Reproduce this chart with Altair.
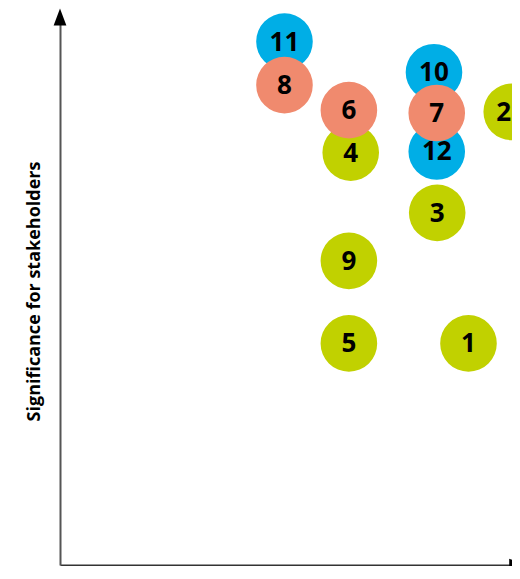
import altair as alt
import pandas as pd

labels = ["1", "2", "3", "4", "5", "6", "7", "8", "9", "10", "11", "12"]
impact = [8.88, 9.82, 8.20, 6.32, 6.28, 6.28, 8.19, 4.88, 6.28, 8.13, 4.88, 8.19]
significance = [4.15, 8.30, 6.49, 7.57, 4.15, 8.33, 8.28, 8.78, 5.63, 9.01, 9.56, 7.59]
category = ["A", "A", "A", "A", "A", "C", "C", "C", "A", "B", "B", "B"]
layer_rank = [1, 1, 1, 1, 1, 2, 2, 2, 1, 1, 1, 1]

cat_domain = ["A", "B", "C"]
cat_colors = ["#c1d100", "#00aee6", "#f08a6e"]

df = pd.DataFrame({
    "label": labels,
    "impact": impact,
    "significance": significance,
    "category": category,
    "rank": layer_rank,
})

arrow_y = pd.DataFrame({"impact": [0.0], "significance": [10.0]})
arrow_x = pd.DataFrame({"impact": [9.95], "significance": [0.179]})

xscale = alt.Scale(domain=[0, 9.826], nice=False, zero=False)
yscale = alt.Scale(domain=[0.179, 10], nice=False, zero=False)

x_axis = alt.Axis(title=None, labels=False, ticks=False, grid=False,
                  domainColor="#333333", domainWidth=2)
y_axis = alt.Axis(title="Significance for stakeholders", labels=False, ticks=False,
                  grid=False, domainColor="#555555", domainWidth=2,
                  titleFont="Open Sans", titleFontSize=18, titleFontWeight="bold",
                  titleColor="#000000", titlePadding=17)

base = alt.Chart(df).encode(
    x=alt.X("impact:Q", scale=xscale, axis=x_axis),
    y=alt.Y("significance:Q", scale=yscale, axis=y_axis),
)

circles = base.mark_circle(size=3204, opacity=1).encode(
    color=alt.Color("category:N", scale=alt.Scale(domain=cat_domain, range=cat_colors), legend=None),
    order=alt.Order("rank:Q", sort="ascending"),
)

text_style = dict(font="Open Sans", fontSize=26, fontWeight="bold",
                  color="#000000", baseline="middle", dy=1)

texts = base.mark_text(**text_style).encode(
    text="label:N"
).transform_filter(alt.datum.label != "2")

# the label at the right edge is nudged inward so it stays readable
text_edge = base.mark_text(dx=-8, **text_style).encode(
    text="label:N"
).transform_filter(alt.datum.label == "2")

up_arrow = alt.Chart(arrow_y).mark_point(
    shape="M0,-1L-0.75,1L0.75,1Z", size=289, filled=True, color="#000000", opacity=1
).encode(
    x=alt.X("impact:Q", scale=xscale),
    y=alt.Y("significance:Q", scale=yscale),
)

right_arrow = alt.Chart(arrow_x).mark_point(
    shape="M1,0L-1,-0.75L-1,0.75Z", size=289, filled=True, color="#000000", opacity=1
).encode(
    x=alt.X("impact:Q", scale=xscale),
    y=alt.Y("significance:Q", scale=yscale),
)

chart = alt.layer(circles, texts, text_edge, up_arrow, right_arrow).properties(
    width=452,
    height=548,
    autosize=alt.AutoSizeParams(type="none"),
    padding={"left": 52, "top": 9, "right": 0, "bottom": 1},
).configure_view(stroke=None)

chart.save("out.html", embed_options={"renderer": "svg", "actions": False})
